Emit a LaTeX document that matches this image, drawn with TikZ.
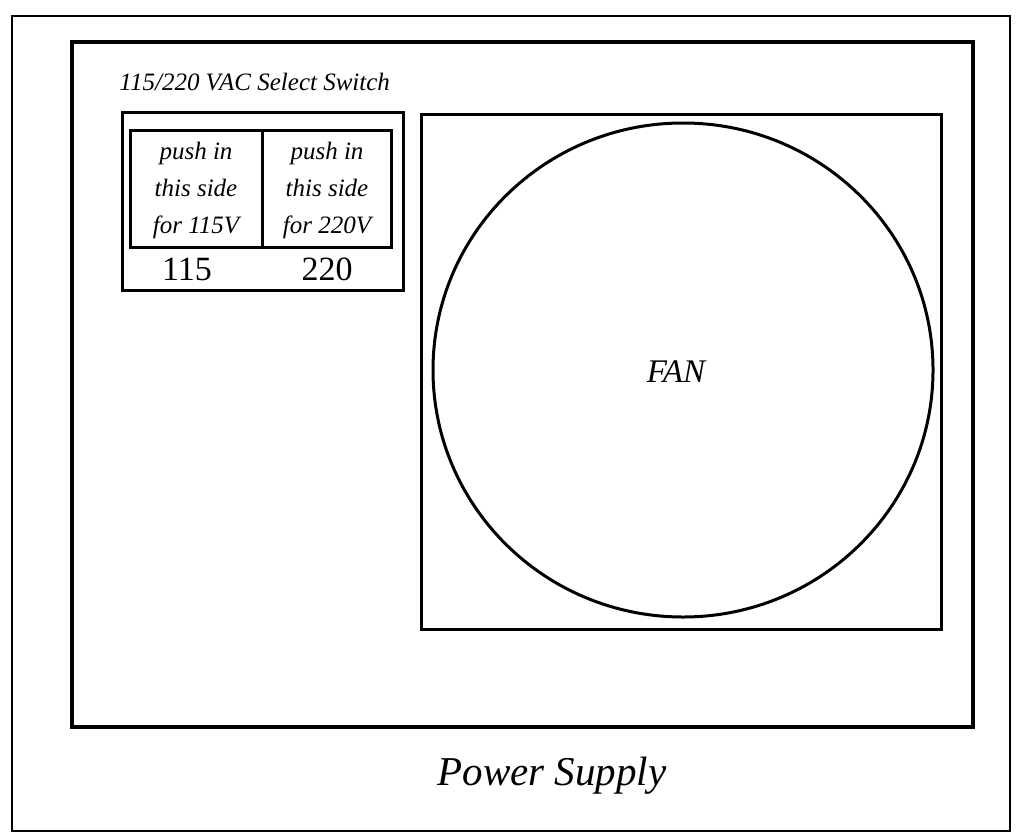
\documentclass[tikz,border=0pt]{standalone}
\usepackage{fontspec}
\setmainfont{Liberation Serif}
\usetikzlibrary{positioning}

\begin{document}
\begin{tikzpicture}[
  x=0.5pt,y=-0.5pt,
  frame/.style={draw=black,line width=1pt},
  unit/.style={draw=black,line width=2.2pt},
  part/.style={draw=black,line width=1.5pt},
  label/.style={font=\fontsize{12.5}{15}\selectfont\itshape,inner sep=0pt},
  sidetext/.style={font=\fontsize{12.5}{18.5}\selectfont\itshape,align=center,inner sep=0pt},
  volts/.style={font=\fontsize{17}{20}\selectfont,inner sep=0pt}
]
  \useasboundingbox (0,0) rectangle (1020,834);

  % frames
  \draw[frame] (12,16) rectangle (1010,831);
  \draw[unit] (72,42) rectangle (973,727);

  % select switch
  \node[label,anchor=west] (title) at (119,82) {115/220 VAC Select Switch};
  \draw[part] (122,113) rectangle (403,290);
  \draw[part] (130,131) rectangle (391,247);
  \draw[part] (262,131) -- (262,247);
  \node[sidetext] (lo) at (196,190) {push in\\this side\\for 115V};
  \node[sidetext] (hi) at (327,190) {push in\\this side\\for 220V};
  \node[volts] (v115) at (187,269) {115};
  \node[volts] (v220) at (327,269) {220};

  % fan
  \draw[part] (421,115) rectangle (941,629);
  \draw[part] (683,370) ellipse (250 and 247);
  \node[font=\fontsize{16.5}{20}\selectfont\itshape,inner sep=0pt] (fan) at (676,372) {FAN};

  \node[font=\fontsize{20.5}{24}\selectfont\itshape,inner sep=0pt] (psu) at (552,776) {Power Supply};
\end{tikzpicture}
\end{document}
